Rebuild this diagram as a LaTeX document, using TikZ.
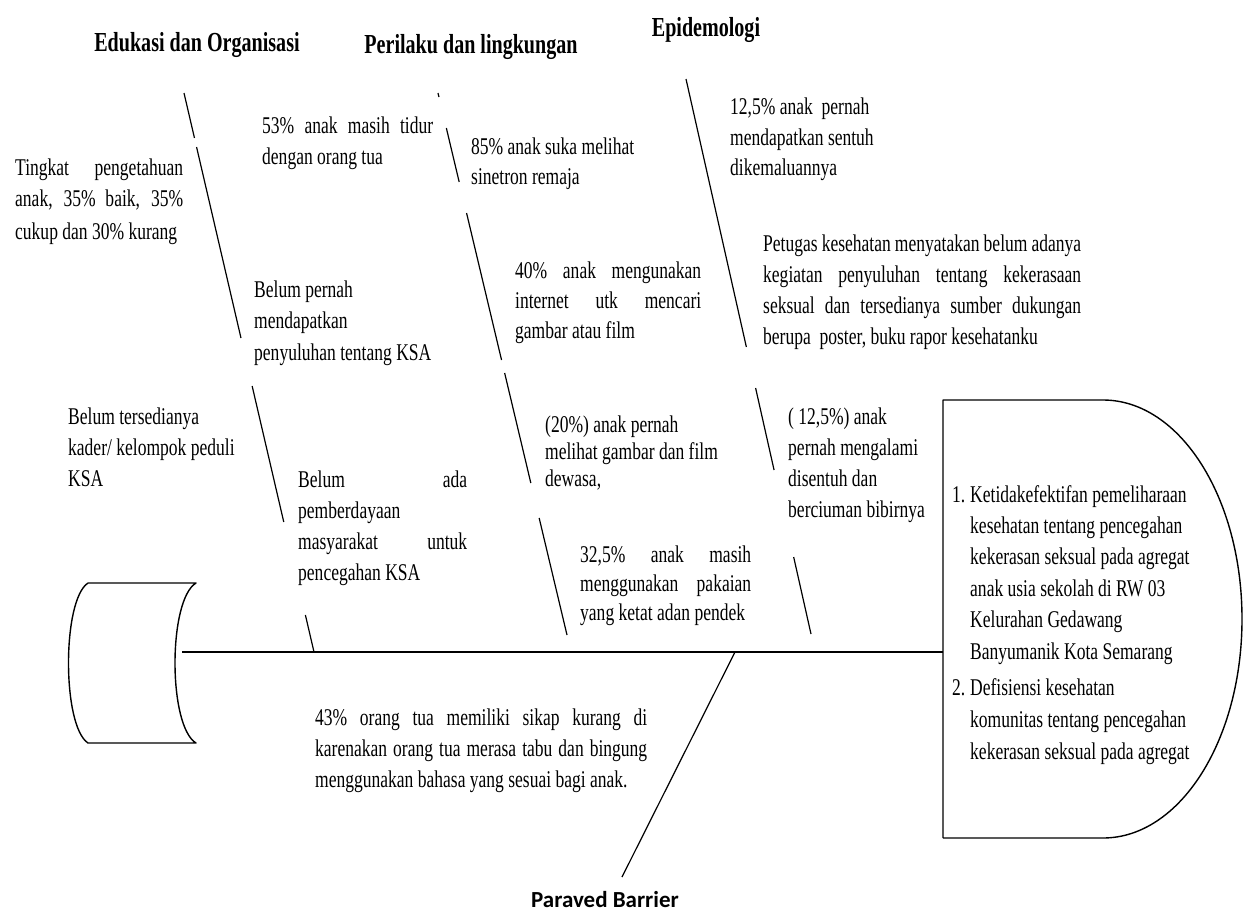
\documentclass[tikz,border=0pt]{standalone}
\usepackage{fontspec}
\setmainfont{Liberation Serif}[FakeStretch=0.73]
\newfontfamily\barrierfont{Carlito}
\usetikzlibrary{calc}
\tikzset{
  txt/.style={anchor=base west, inner sep=0pt, align=flush left, font=\fontsize{24}{#1}\selectfont},
  txt/.default=31,
  jtxt/.style={txt=#1, align=justify},
  jtxt/.default=31,
  hdr/.style={inner sep=0pt, font=\fontsize{27.5}{32}\selectfont\bfseries},
  bone/.style={line width=1.2pt},
  spine/.style={line width=2.2pt},
  outline/.style={line width=1.4pt, line join=round},
}

\begin{document}
\begin{tikzpicture}[x=1pt, y=-1pt]
\useasboundingbox[fill=white] (0,0) rectangle (1244,923);

% Titles
\node[hdr] (eduTitle) at (197,45) {Edukasi dan Organisasi};
\node[hdr] (behTitle) at (471,47) {Perilaku dan lingkungan};
\node[hdr] (epiTitle) at (706,30) {Epidemologi};
\node[inner sep=0pt, font=\fontsize{23}{27}\selectfont\barrierfont\bfseries] (barTitle) at (605,900) {Paraved Barrier};

% Tail
\draw[outline] (88,583) -- (196,583) .. controls (168,600) and (168,726) .. (196,743)
  -- (88,743) .. controls (62,726) and (62,600) .. (88,583);

% Head
\draw[outline] (943,838) -- (943,400) -- (1103,400) .. controls (1180,400) and (1242,498) .. (1242,619)
  .. controls (1242,740) and (1180,838) .. (1103,838) -- (943,838);

% Spine
\coordinate (spineL) at (182,652);
\coordinate (spineR) at (943,652);
\draw[spine] (spineL) -- (spineR);

% Bone: Edukasi dan Organisasi
\coordinate (eduTop) at (184,93);
\coordinate (eduFoot) at (314,652);
\draw[bone] (eduTop) -- ($(eduTop)!.0805!(eduFoot)$);
\draw[bone] ($(eduTop)!.0966!(eduFoot)$) -- ($(eduTop)!.4383!(eduFoot)$);
\draw[bone] ($(eduTop)!.5242!(eduFoot)$) -- ($(eduTop)!.7674!(eduFoot)$);
\draw[bone] ($(eduTop)!.9338!(eduFoot)$) -- (eduFoot);

% Bone: Perilaku dan lingkungan
\coordinate (behTop) at (438,93);
\coordinate (behFoot) at (567,635);
\draw[bone] (behTop) -- ($(behTop)!.0074!(behFoot)$);
\draw[bone] ($(behTop)!.0646!(behFoot)$) -- ($(behTop)!.1642!(behFoot)$);
\draw[bone] ($(behTop)!.2214!(behFoot)$) -- ($(behTop)!.4926!(behFoot)$);
\draw[bone] ($(behTop)!.5166!(behFoot)$) -- ($(behTop)!.7196!(behFoot)$);
\draw[bone] ($(behTop)!.7841!(behFoot)$) -- (behFoot);

% Bone: Epidemologi
\coordinate (epiTop) at (686,79);
\coordinate (epiFoot) at (811,634);
\draw[bone] (epiTop) -- ($(epiTop)!.4829!(epiFoot)$);
\draw[bone] ($(epiTop)!.5568!(epiFoot)$) -- ($(epiTop)!.7045!(epiFoot)$);
\draw[bone] ($(epiTop)!.8613!(epiFoot)$) -- (epiFoot);

% Bone: Paraved Barrier
\coordinate (barJoint) at (735,652);
\coordinate (barFoot) at (622,877);
\draw[bone] (barJoint) -- (barFoot);

% Edukasi dan Organisasi causes
\node[jtxt=32, text width=168pt] (eduKnow) at (15,175) {Tingkat pengetahuan\linebreak anak, 35\% baik, 35\%\linebreak cukup dan 30\% kurang};
\node[txt, text width=220pt] (eduKader) at (68,424) {Belum tersedianya\\kader/ kelompok peduli\\KSA};
\node[jtxt, text width=171pt] (eduSleep) at (262,134) {53\% anak masih tidur\linebreak dengan orang tua};
\node[txt=31.5, text width=220pt] (eduCounsel) at (254,297) {Belum pernah\\mendapatkan\\penyuluhan tentang KSA};
\node[jtxt, text width=169pt] (eduEmpower) at (298,487) {Belum ada\linebreak pemberdayaan\linebreak masyarakat untuk\linebreak pencegahan KSA};

% Perilaku dan lingkungan causes
\node[txt=30, text width=200pt] (behTv) at (471,154) {85\% anak suka melihat\\sinetron remaja};
\node[jtxt=30, text width=186pt] (behNet) at (515,278) {40\% anak mengunakan\linebreak internet utk mencari\linebreak gambar atau film};
\node[txt=27, text width=200pt] (behFilm) at (545,432) {(20\%) anak pernah\\melihat gambar dan film\\dewasa,};
\node[jtxt=29, text width=171pt] (behCloth) at (580,562) {\parfillskip=0pt 32,5\% anak masih\linebreak menggunakan pakaian\linebreak yang ketat adan pendek};

% Epidemologi causes
\node[txt, text width=200pt] (epiTouch) at (730,114) {12,5\% anak\ \ pernah\\mendapatkan sentuh\\dikemaluannya};
\node[jtxt, text width=318pt] (epiStaff) at (763,251) {Petugas kesehatan menyatakan belum adanya\linebreak kegiatan penyuluhan tentang kekerasaan\linebreak seksual dan tersedianya sumber dukungan\linebreak berupa\ \ poster, buku rapor kesehatanku};
\node[txt, text width=200pt] (epiKiss) at (788,424) {( 12,5\%) anak\\pernah mengalami\\disentuh dan\\berciuman bibirnya};

% Paraved Barrier cause
\node[jtxt, text width=332pt] (barParent) at (315,725) {43\% orang tua memiliki sikap kurang di\linebreak karenakan orang tua merasa tabu dan bingung\linebreak menggunakan bahasa yang sesuai bagi anak.};

% Head: problems
\node[txt] (num1) at (952,502) {1.};
\node[txt=31.4, text width=250pt] (problem1) at (970,502) {Ketidakefektifan pemeliharaan\\kesehatan tentang pencegahan\\kekerasan seksual pada agregat\\anak usia sekolah di RW 03\\Kelurahan Gedawang\\Banyumanik Kota Semarang};
\node[txt] (num2) at (952,695) {2.};
\node[txt=32, text width=250pt] (problem2) at (970,695) {Defisiensi kesehatan\\komunitas tentang pencegahan\\kekerasan seksual pada agregat};

\end{tikzpicture}
\end{document}
